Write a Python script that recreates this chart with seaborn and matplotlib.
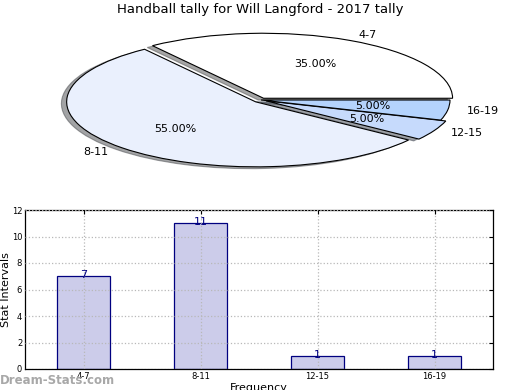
import matplotlib
matplotlib.use("Agg")
import matplotlib.pyplot as plt
import seaborn as sns
import pandas as pd

categories = ["4-7", "8-11", "12-15", "16-19"]
counts = [7, 11, 1, 1]
pie_colors = ["#ffffff", "#eaf0fd", "#c6dafc", "#b4d3fd"]
explode = [0.03, 0.04, 0.03, 0.0]
title = "Handball tally for Will Langford - 2017 tally"

sns.set_style("white")
plt.rcParams['font.family'] = ['DejaVu Sans']
plt.rcParams['text.color'] = 'black'
plt.rcParams['axes.labelcolor'] = 'black'
plt.rcParams['xtick.color'] = 'black'
plt.rcParams['ytick.color'] = 'black'

fig = plt.figure(figsize=(5.2, 3.9), dpi=100)

RX, RY = 189, 65
# Pie axes (elliptical)
pax = fig.add_axes([0, (390 - 190) / 390, 1, 170 / 390])
wedges, texts, autotexts = pax.pie(
    counts, labels=categories, colors=pie_colors, explode=explode,
    startangle=0, counterclock=True, autopct="%.2f%%", pctdistance=0.6,
    labeldistance=1.1, shadow=True,
    wedgeprops=dict(edgecolor="black", linewidth=0.8),
    textprops=dict(fontsize=8, color="black"))
pax.set_aspect("auto")
pax.set_xlim(-261 / RX, 259 / RX)
pax.set_ylim(-90 / RY, 80 / RY)
pax.axis("off")
fig.text(0.5, 1 - 10 / 390, title, ha="center", va="center", fontsize=9.5,
         color="black")

# Bar axes
bax = fig.add_axes([25 / 520, 21 / 390, 468 / 520, 159 / 390])
df = pd.DataFrame({"cat": categories, "count": counts})
sns.barplot(data=df, x="cat", y="count", ax=bax, color="#ccccea",
            saturation=1, width=0.45, edgecolor="#000080", linewidth=0.9)
bax.set_xlim(-0.5, 3.5)
bax.set_ylim(0, 12)
bax.set_yticks(range(0, 13, 2))
bax.grid(True, linestyle=":", color="#b8b8b8", linewidth=0.9)
bax.set_axisbelow(False)
for p in bax.patches:
    p.set_zorder(1)
bax.tick_params(direction="in", labelsize=6, length=3, right=True, top=True,
                pad=2)
for c in bax.containers:
    bax.bar_label(c, fmt="%d", color="#000080", fontsize=8, padding=-3)
bax.set_ylabel("Stat Intervals", fontsize=8)
bax.yaxis.set_label_coords(-14 / 468, 0.5)
bax.set_xlabel("Frequency", fontsize=8)
bax.xaxis.set_label_coords(0.5, -14 / 159)
for s in bax.spines.values():
    s.set_color("black")
    s.set_linewidth(0.9)

fig.text(0.0, 10 / 390, "Dream-Stats.com", ha="left", va="center",
         fontsize=8.5, fontweight="bold", color="#a8a8a8")

fig.savefig("out.png", dpi=100)
